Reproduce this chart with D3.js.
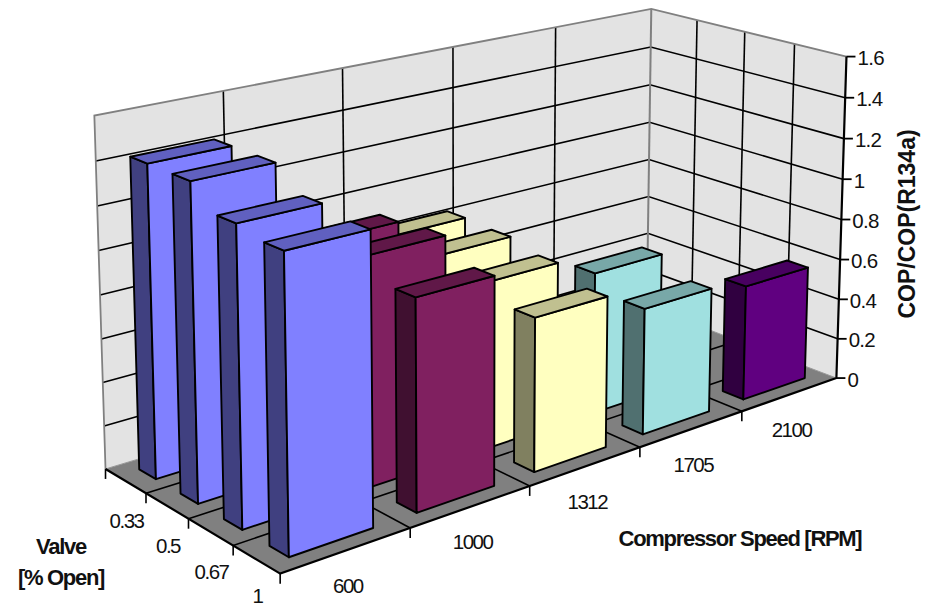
<!DOCTYPE html>
<html><head><meta charset="utf-8">
<script src="https://cdn.jsdelivr.net/npm/d3@7"></script>
<style>html,body{margin:0;background:#fff}svg{display:block}text{font-family:"Liberation Sans",Arial,sans-serif;fill:#111}</style>
</head><body><svg id="c" width="934" height="608"></svg>
<script>
// --- data ---
const speedLabels = ["600","1000","1312","1705","2100"];
const valveLabels = ["0.33","0.5","0.67","1"];
const copTicks = [0,0.2,0.4,0.6,0.8,1,1.2,1.4,1.6];
const cop600  = [1.42,1.42,1.32,1.29];
const cop1000 = [null,1.025,1.045,0.95];
const cop1312 = [0.83,0.82,0.78,0.71];
const cop1705 = [null,null,0.68,0.60];
const cop2100 = [null,null,null,0.56];
const seriesValues = [cop600,cop1000,cop1312,cop1705,cop2100];
const frontColors = ["#8080FF","#802060","#FFFFC0","#A0E0E0","#600080"];
const sideColors  = ["#404080","#401030","#808060","#507070","#300040"];
const topColors   = ["#6060C0","#601848","#C0C090","#78A8A8","#480060"];

// --- camera calibration: box corners as seen in the picture (u, v, w) -> (px, py) ---
const calib = [
 [0,0,0,106,471],[1,0,0,646,304],[0,1,0,280,572],[1,1,0,837,380],
 [0,0,1,94,115],[1,0,1,652,10],[1,1,1,846,56]
];
function solve(M,b){const n=b.length,a=M.map((r,i)=>[...r,b[i]]);
 for(let i=0;i<n;i++){let p=i;for(let k=i+1;k<n;k++)if(Math.abs(a[k][i])>Math.abs(a[p][i]))p=k;[a[i],a[p]]=[a[p],a[i]];
  for(let k=0;k<n;k++)if(k!==i){const f=a[k][i]/a[i][i];for(let j=i;j<=n;j++)a[k][j]-=f*a[i][j];}}
 return a.map((r,i)=>r[n]/r[i]);}
const rows=[],rhs=[];
calib.forEach(([u,v,w,x,y])=>{
 rows.push([u,v,w,1,0,0,0,0,-x*u,-x*v,-x*w]);rhs.push(x);
 rows.push([0,0,0,0,u,v,w,1,-y*u,-y*v,-y*w]);rhs.push(y);});
const N=d3.range(11).map(i=>d3.range(11).map(j=>d3.sum(rows,r=>r[i]*r[j])));
const B=d3.range(11).map(i=>d3.sum(rows,(r,k)=>r[i]*rhs[k]));
const P=solve(N,B);
function proj(u,v,w){const d=P[8]*u+P[9]*v+P[10]*w+1;
 return [(P[0]*u+P[1]*v+P[2]*w+P[3])/d,(P[4]*u+P[5]*v+P[6]*w+P[7])/d];}

// --- scales ---
const uScale=d3.scaleBand().domain(speedLabels).range([0,1]).paddingInner(0.35).paddingOuter(0.175).align(0.485);
const vScale=d3.scaleBand().domain(valveLabels).range([0,1]).paddingInner(0.59).paddingOuter(0.295);
const wScale=d3.scaleLinear().domain([0,1.6]).range([0,1]);
const uStep=uScale.step(), vStep=vScale.step();

const svg=d3.select("#c");
const line=d3.line();
const poly=pts=>line(pts)+"Z";
const W="#E3E3E3",E="#808080";

// walls
svg.append("path").attr("d",poly([proj(0,0,0),proj(1,0,0),proj(1,0,1),proj(0,0,1)])).attr("fill",W);
svg.append("path").attr("d",poly([proj(1,0,0),proj(1,1,0),proj(1,1,1),proj(1,0,1)])).attr("fill",W);
// floor
svg.append("path").attr("d",poly([proj(0,0,0),proj(1,0,0),proj(1,1,0),proj(0,1,0)])).attr("fill","#808080");
// wall grid
const grid=svg.append("g").attr("stroke","#000").attr("stroke-width",1.6).attr("fill","none");
copTicks.slice(1,-1).forEach(t=>{const w=wScale(t);
 grid.append("path").attr("d",line([proj(0,0,w),proj(1,0,w),proj(1,1,w)]));});
d3.range(1,speedLabels.length).forEach(i=>grid.append("path").attr("d",line([proj(i*uStep,0,0),proj(i*uStep,0,1)])));
d3.range(1,valveLabels.length).forEach(i=>grid.append("path").attr("d",line([proj(1,i*vStep,0),proj(1,i*vStep,1)])));
// wall outline
svg.append("path").attr("d",line([proj(0,0,0),proj(0,0,1),proj(1,0,1),proj(1,1,1)])).attr("fill","none").attr("stroke",E).attr("stroke-width",1.8);
svg.append("path").attr("d",line([proj(1,0,0),proj(1,0,1)])).attr("fill","none").attr("stroke",E).attr("stroke-width",2);
svg.append("path").attr("d",line([proj(0,0,0),proj(1,0,0),proj(1,1,0)])).attr("fill","none").attr("stroke","#999").attr("stroke-width",1);
// floor grid
const fg=svg.append("g").attr("stroke","#000").attr("stroke-width",1.6).attr("fill","none");
d3.range(1,speedLabels.length).forEach(i=>fg.append("path").attr("d",line([proj(i*uStep,0,0),proj(i*uStep,1,0)])));
d3.range(1,valveLabels.length).forEach(i=>fg.append("path").attr("d",line([proj(0,i*vStep,0),proj(1,i*vStep,0)])));

// axes lines + ticks
const ax=svg.append("g").attr("stroke","#000").attr("fill","none");
ax.append("path").attr("stroke-width",2.2).attr("d",line([proj(0,0,0),proj(0,1,0),proj(1,1,0),proj(1,1,1)]));
d3.range(0,speedLabels.length).forEach(i=>{const p=proj(i*uStep,1,0);ax.append("path").attr("stroke-width",1.6).attr("d",line([p,[p[0],p[1]+10]]));});
d3.range(0,valveLabels.length).forEach(i=>{const p=proj(0,i*vStep,0);ax.append("path").attr("stroke-width",1.6).attr("d",line([p,[p[0],p[1]+10]]));});
copTicks.forEach(t=>{const p=proj(1,1,wScale(t));ax.append("path").attr("stroke-width",1.8).attr("d",line([p,[p[0]+9,p[1]]]));});

// bars, back to front, right to left
const bars=[];
valveLabels.forEach((vl,vi)=>{
 d3.range(speedLabels.length-1,-1,-1).forEach(si=>{
  const val=seriesValues[si][vi];
  if(val==null) return;
  bars.push({si,vl,sl:speedLabels[si],val});
 });
});
const barG=svg.append("g").selectAll("g").data(bars).join("g")
 .attr("stroke","#000").attr("stroke-width",1.9).attr("stroke-linejoin","round");
barG.each(function(d){
 const u0=uScale(d.sl),u1=u0+uScale.bandwidth(),v0=vScale(d.vl),v1=v0+vScale.bandwidth(),w=wScale(d.val);
 const g=d3.select(this);
 g.append("path").attr("fill",sideColors[d.si]).attr("d",poly([proj(u0,v0,0),proj(u0,v1,0),proj(u0,v1,w),proj(u0,v0,w)]));
 g.append("path").attr("fill",frontColors[d.si]).attr("d",poly([proj(u0,v1,0),proj(u1,v1,0),proj(u1,v1,w),proj(u0,v1,w)]));
 g.append("path").attr("fill",topColors[d.si]).attr("d",poly([proj(u0,v0,w),proj(u1,v0,w),proj(u1,v1,w),proj(u0,v1,w)]));
});

// labels
function txt(x,y,s,o={}){return svg.append("text").attr("x",x).attr("y",y).attr("font-size",o.fs||20.5)
 .attr("text-anchor",o.anchor||"middle").attr("dominant-baseline","central")
 .attr("letter-spacing",o.ls||"-1.5px").attr("font-weight",o.w||"normal").text(s);}
speedLabels.forEach(s=>{const p=proj(uScale(s)+uScale.bandwidth()/2,1,0);txt(p[0]+2,p[1]+35,s);});
valveLabels.forEach(s=>{const p=proj(0,vScale(s)+vScale.bandwidth()/2,0);txt(p[0]+1,Math.min(p[1]+39.5,595.5),s);});
copTicks.forEach(t=>{const p=proj(1,1,wScale(t));txt(p[0]+11,p[1]+1,String(t),{anchor:"start",ls:"-0.7px"});});
const tb={w:"bold",fs:22,ls:"-1.3px"};
txt(740,538,"Compressor Speed [RPM]",tb);
txt(61,546,"Valve",tb);
txt(61,577,"[% Open]",tb);
txt(0,0,"COP/COP(R134a)",{w:"bold",fs:23,ls:"0px"}).attr("transform","translate(907,224) rotate(-90)");
</script></body></html>
